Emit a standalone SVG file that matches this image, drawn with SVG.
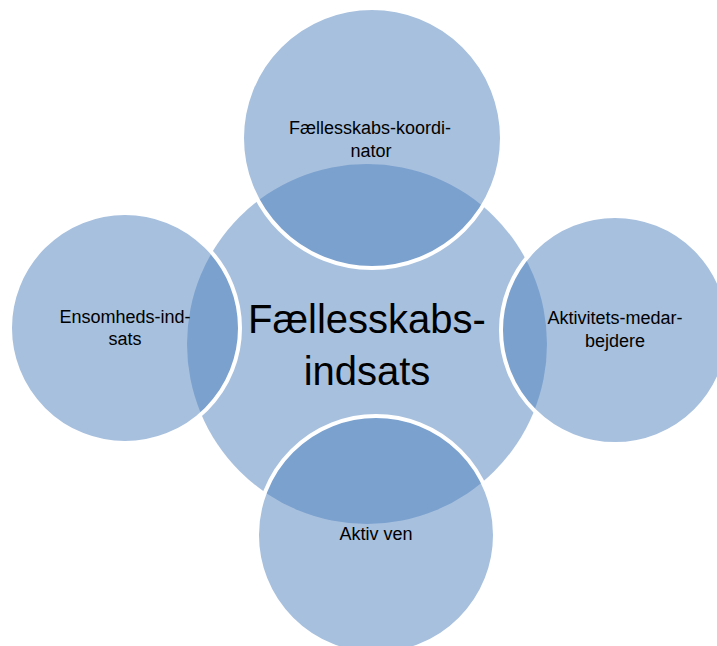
<svg xmlns="http://www.w3.org/2000/svg" width="717" height="646" viewBox="0 0 717 646">
<style>
.c{fill:#4F81BD;fill-opacity:0.5}
.s{fill:#4F81BD;fill-opacity:0.5;stroke:#FFFFFF;stroke-width:4}
.t{font-family:"Liberation Sans","Open Sans",Arial,sans-serif;fill:#000;text-anchor:middle}
.small{font-size:18px}
.big{font-size:40px}
</style>
<rect width="717" height="646" fill="#FFFFFF"/>
<g id="center">
<circle class="c" cx="367" cy="344" r="180"/>
</g>
<g id="top">
<circle class="s" cx="372" cy="138" r="130"/>
</g>
<g id="left">
<circle class="s" cx="125" cy="328" r="115"/>
</g>
<g id="right">
<circle class="s" cx="615" cy="330" r="114"/>
</g>
<g id="bottom">
<circle class="s" cx="376" cy="535" r="119"/>
</g>
<g id="connectors"/>
<g id="labels">
<text class="t big" x="367" y="333">Fællesskabs-</text>
<text class="t big" x="367" y="385">indsats</text>
<text class="t small" x="370" y="134">Fællesskabs-koordi-</text>
<text class="t small" x="371" y="157">nator</text>
<text class="t small" x="125" y="323">Ensomheds-ind-</text>
<text class="t small" x="125" y="345">sats</text>
<text class="t small" x="615" y="324">Aktivitets-medar-</text>
<text class="t small" x="615" y="347">bejdere</text>
<text class="t small" x="376" y="540">Aktiv ven</text>
</g>
</svg>
